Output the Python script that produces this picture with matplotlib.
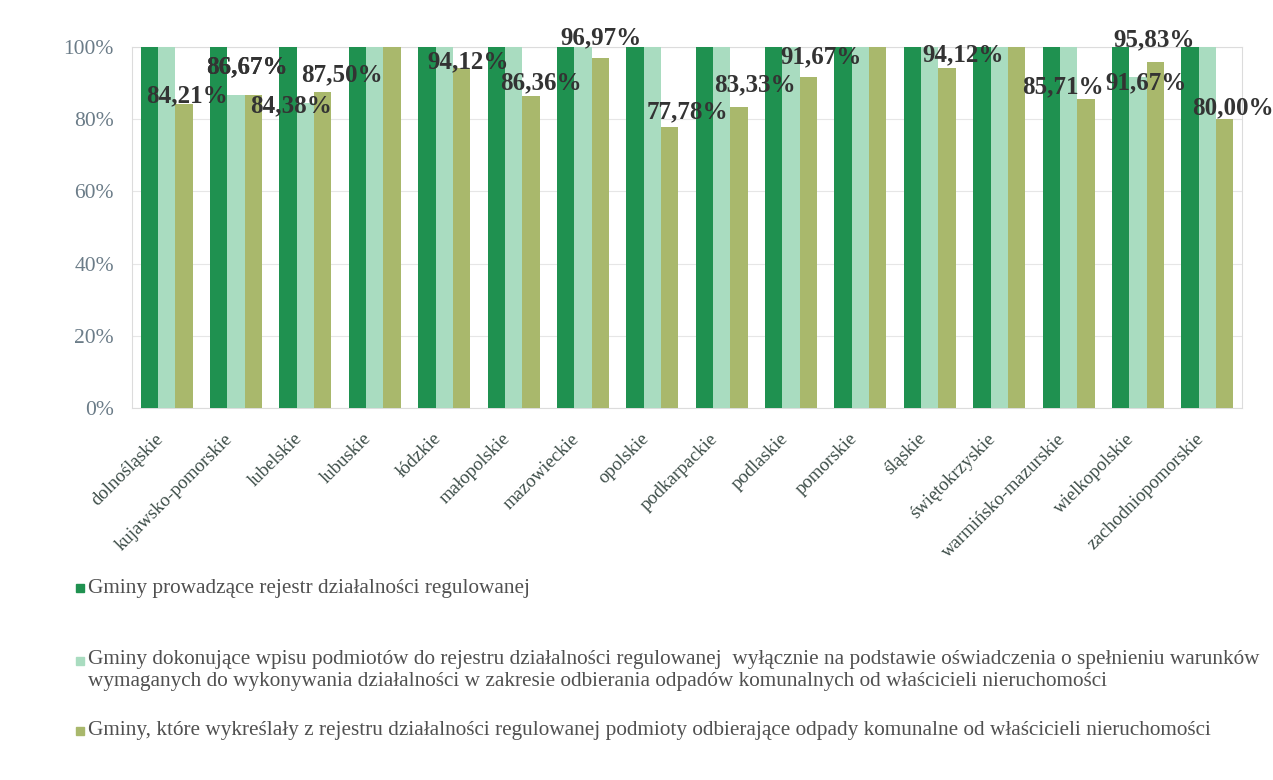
import matplotlib
matplotlib.use("Agg")
import matplotlib.pyplot as plt
import numpy as np
from matplotlib.patches import Rectangle

categories = ["dolnośląskie", "kujawsko-pomorskie", "lubelskie", "lubuskie", "łódzkie",
              "małopolskie", "mazowieckie", "opolskie", "podkarpackie", "podlaskie",
              "pomorskie", "śląskie", "świętokrzyskie", "warmińsko-mazurskie",
              "wielkopolskie", "zachodniopomorskie"]

s_register = [100, 100, 100, 100, 100, 100, 100, 100, 100, 100, 100, 100, 100, 100, 100, 100]
s_statement = [100, 86.67, 84.38, 100, 100, 100, 100, 100, 100, 100, 100, 100, 100, 100, 91.67, 100]
s_removed = [84.21, 86.67, 87.50, 100, 94.12, 86.36, 96.97, 77.78, 83.33, 91.67, 100, 94.12, 100, 85.71, 95.83, 80.00]

series_names = [
    "Gminy prowadzące rejestr działalności regulowanej",
    "Gminy dokonujące wpisu podmiotów do rejestru działalności regulowanej  wyłącznie na podstawie oświadczenia o spełnieniu warunków\nwymaganych do wykonywania działalności w zakresie odbierania odpadów komunalnych od właścicieli nieruchomości",
    "Gminy, które wykreślały z rejestru działalności regulowanej podmioty odbierające odpady komunalne od właścicieli nieruchomości",
]
yticks = [0, 20, 40, 60, 80, 100]

colors = ["#1f9150", "#a9dcc0", "#a9b86c"]

# label offsets in pixels (dx, dy) from bar top centre; default and overrides
bar_px = 0.25 * (1242 - 132) / 16
default_off = (8, 14)
label_off = {
    (2, 0): (3, 8), (1, 1): (11, 28), (2, 1): (11 - bar_px, 28),
    (1, 2): (-14, -2), (2, 2): (19, 17), (2, 4): (7, 6), (2, 5): (10, 13),
    (2, 6): (1, 20), (2, 7): (18, 15), (2, 8): (16, 22), (2, 9): (13, 20),
    (2, 11): (16, 13), (2, 13): (-23, 12), (1, 14): (8, -6), (2, 14): (-1, 22),
    (2, 15): (8, 11),
}

plt.rcParams['font.family'] = ['Liberation Serif', 'DejaVu Serif']

fig = plt.figure(figsize=(12.73, 7.80), dpi=100)
ax = fig.add_axes([132/1273, 1-408/780, (1242-132)/1273, (408-47)/780])

x = np.arange(len(categories))
w = 0.25
all_series = [s_register, s_statement, s_removed]
for i, (vals, col) in enumerate(zip(all_series, colors)):
    v = np.array(vals) / 100.0
    ax.bar(x + (i - 1) * w, v, width=w, color=col, zorder=3, linewidth=0)
    for j, val in enumerate(vals):
        if val < 100:
            dx, dy = label_off.get((i, j), default_off)
            ax.annotate(f"{val:.2f}%".replace(".", ","), (x[j] + (i - 1) * w, val / 100.0),
                        xytext=(dx, dy), textcoords='offset pixels',
                        ha='center', va='center', fontsize=18, fontweight='bold',
                        color='#333333', zorder=5)

ax.set_xlim(-0.5, len(categories) - 0.5)
ax.set_ylim(0, 1.0)
ax.set_yticks([t / 100 for t in yticks])
ax.set_yticklabels([f"{t}%" for t in yticks], fontsize=15.5, color='#6b7c88')
ax.set_xticks(x)
ax.set_xticklabels(categories, rotation=45, ha='right', fontsize=13.5, color='#3d4d48')
ax.tick_params(axis='x', length=0, pad=16)
ax.tick_params(axis='y', length=0, pad=13)
ax.grid(axis='y', color='#e6e6e6', linewidth=0.8, zorder=0)
for sp in ax.spines.values():
    sp.set_color('#dcdcdc')
    sp.set_linewidth(0.8)

# legend
leg_y = [588, 661, 731]
for name, col, yy in zip(series_names, colors, leg_y):
    fig.patches.append(Rectangle((76/1273, 1 - (yy + 4)/780), 8/1273, 8/780,
                                 transform=fig.transFigure, color=col, figure=fig))
    if '\n' in name:
        fig.text(88/1273, 1 - (yy - 11)/780, name, ha='left', va='top',
                 fontsize=15.3, color='#505050', linespacing=1.2)
    else:
        fig.text(88/1273, 1 - yy/780, name, ha='left', va='center',
                 fontsize=15.3, color='#505050')

fig.savefig("out.png", dpi=100, facecolor='white')
